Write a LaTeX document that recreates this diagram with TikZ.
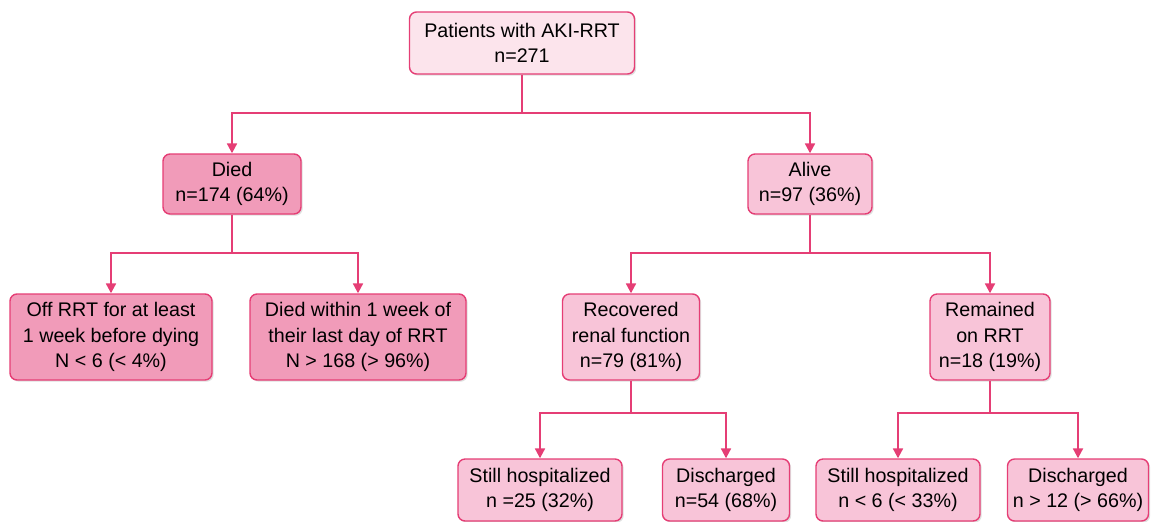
\documentclass[tikz,border=0pt]{standalone}
\usepackage{fontspec}
\setmainfont{Liberation Sans}
\usepackage{tikz}
\usetikzlibrary{arrows.meta,shadows}
\definecolor{linepink}{RGB}{229,62,117}
\definecolor{toppink}{RGB}{252,228,236}
\definecolor{darkpink}{RGB}{241,155,185}
\definecolor{midpink}{RGB}{248,196,216}

\begin{document}
\begin{tikzpicture}[x=0.025cm, y=-0.025cm,
    box/.style={rectangle, rounded corners=5pt, draw=linepink, line width=1pt,
                align=center, inner sep=2pt, minimum height=62*0.025cm,
                font=\fontsize{14}{18.2}\selectfont,
                drop shadow={opacity=0.25, shadow xshift=1.2pt, shadow yshift=-1.2pt}},
    arrow/.style={-{Triangle[length=7pt,width=7pt]}, line width=1.5pt, draw=linepink},
    stem/.style={line width=1.5pt, draw=linepink}
]
\useasboundingbox (0,0) rectangle (1157,521);

\node[box, fill=toppink, minimum width=225*0.025cm] (top) at (522,43) {Patients with AKI-RRT\\n=271};

\node[box, fill=darkpink, minimum width=138*0.025cm, minimum height=60*0.025cm] (died)  at (232,184) {Died\\n=174 (64\%)};
\node[box, fill=midpink, minimum width=124*0.025cm, minimum height=60*0.025cm]  (alive) at (810,184) {Alive\\n=97 (36\%)};

\node[box, fill=darkpink, minimum width=202*0.025cm, minimum height=86*0.025cm] (off)    at (111,337) {Off RRT for at least\\1 week before dying\\N < 6 (< 4\%)};
\node[box, fill=darkpink, minimum width=216*0.025cm, minimum height=86*0.025cm] (within) at (358,337) {Died within 1 week of\\their last day of RRT\\N > 168 (> 96\%)};
\node[box, fill=midpink, minimum width=137*0.025cm, minimum height=86*0.025cm]  (recov)  at (631,337) {Recovered\\renal function\\n=79 (81\%)};
\node[box, fill=midpink, minimum width=120*0.025cm, minimum height=86*0.025cm]  (remain) at (990,337) {Remained\\on RRT\\n=18 (19\%)};

\node[box, fill=midpink, minimum width=164*0.025cm] (hospA) at (540,490) {Still hospitalized\\n =25 (32\%)};
\node[box, fill=midpink, minimum width=127*0.025cm] (dischA) at (726,490) {Discharged\\n=54 (68\%)};
\node[box, fill=midpink, minimum width=164*0.025cm] (hospB) at (898,490) {Still hospitalized\\n < 6 (< 33\%)};
\node[box, fill=midpink, minimum width=141*0.025cm] (dischB) at (1078,490) {Discharged\\n > 12 (> 66\%)};

% connectors
\draw[stem] (top.south) -- (top.south |- 0,113);
\draw[arrow] (top.south |- 0,113) -| (died.north);
\draw[arrow] (top.south |- 0,113) -| (alive.north);

\draw[stem] (died.south) -- (died.south |- 0,253);
\draw[arrow] (died.south |- 0,253) -| (off.north);
\draw[arrow] (died.south |- 0,253) -| (within.north);

\draw[stem] (alive.south) -- (alive.south |- 0,253);
\draw[arrow] (alive.south |- 0,253) -| (recov.north);
\draw[arrow] (alive.south |- 0,253) -| (remain.north);

\draw[stem] (recov.south) -- (recov.south |- 0,413);
\draw[arrow] (recov.south |- 0,413) -| (hospA.north);
\draw[arrow] (recov.south |- 0,413) -| (dischA.north);

\draw[stem] (remain.south) -- (remain.south |- 0,413);
\draw[arrow] (remain.south |- 0,413) -| (hospB.north);
\draw[arrow] (remain.south |- 0,413) -| (dischB.north);
\end{tikzpicture}
\end{document}
